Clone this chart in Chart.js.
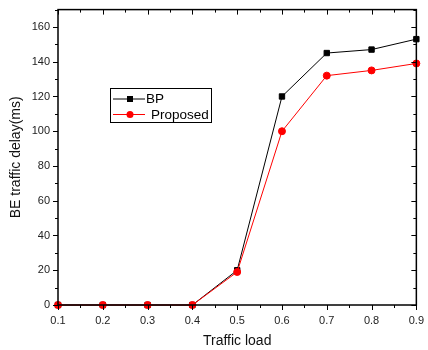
<!DOCTYPE html>
<html>
<head>
<meta charset="utf-8">
<script src="https://cdn.jsdelivr.net/npm/chart.js@4/dist/chart.umd.min.js"></script>
<style>
  html, body { margin: 0; padding: 0; background: #fff; }
  #wrap { width: 428px; height: 350px; position: relative; }
</style>
</head>
<body>
<div id="wrap"><canvas id="c" width="428" height="350"></canvas></div>
<script>
const trafficLoad = [0.1, 0.2, 0.3, 0.4, 0.5, 0.6, 0.7, 0.8, 0.9];
const bpDelay = [0, 0, 0, 0, 20, 120, 145, 147, 153];
const proposedDelay = [0, 0, 0, 0, 19, 100, 132, 135, 139];
const seriesNames = ['BP', 'Proposed'];
const xTitle = 'Traffic load';
const yTitle = 'BE traffic delay(ms)';

const FONT = '"Liberation Sans", Arial, sans-serif';

const framePlugin = {
  id: 'frame',
  afterDraw(chart) {
    const ctx = chart.ctx;
    const a = chart.chartArea;
    const xs = chart.scales.x, ys = chart.scales.y;
    ctx.save();
    ctx.strokeStyle = '#000';
    ctx.lineWidth = 1;
    ctx.beginPath();
    for (let i = 0; i <= 16; i++) {
      const v = 0.1 + i * 0.05;
      const px = Math.round(xs.getPixelForValue(v)) + 0.5;
      const major = i % 2 === 0;
      const len = major ? 5 : 3;
      ctx.moveTo(px, a.bottom); ctx.lineTo(px, a.bottom + len);
      ctx.moveTo(px, a.top); ctx.lineTo(px, a.top + len);
    }
    for (let v = 0; v <= 170; v += 10) {
      const py = Math.round(ys.getPixelForValue(v)) + 0.5;
      const major = v % 20 === 0;
      const len = major ? 5 : 3;
      ctx.moveTo(a.left, py); ctx.lineTo(a.left - len, py);
      ctx.moveTo(a.right, py); ctx.lineTo(a.right - len, py);
    }
    ctx.stroke();
    ctx.lineWidth = 1.5;
    ctx.strokeRect(a.left, a.top, a.right - a.left, a.bottom - a.top);

    const ds = chart.data.datasets;
    ctx.lineWidth = 1;
    ctx.strokeStyle = '#000';
    ctx.strokeRect(110.5, 88.5, 101, 34);
    const rows = [{y: 99, tx: 146}, {y: 114.5, tx: 151}];
    ctx.font = '13.5px ' + FONT;
    ctx.textBaseline = 'middle';
    ctx.textAlign = 'left';
    rows.forEach((r, i) => {
      const d = ds[i];
      ctx.strokeStyle = d.borderColor;
      ctx.lineWidth = 1;
      ctx.beginPath();
      ctx.moveTo(113, r.y); ctx.lineTo(145, r.y);
      ctx.stroke();
      ctx.fillStyle = d.pointBackgroundColor;
      if (d.pointStyle === 'rect') {
        ctx.fillRect(130 - 3, r.y - 3, 6, 6);
      } else {
        ctx.beginPath(); ctx.arc(130, r.y, 3.5, 0, Math.PI * 2); ctx.fill();
      }
      ctx.fillStyle = '#000';
      ctx.fillText(d.label, r.tx, r.y + 0.5);
    });
    ctx.restore();
  }
};

new Chart(document.getElementById('c'), {
  type: 'line',
  data: {
    datasets: [
      {
        label: seriesNames[0],
        data: trafficLoad.map((x, i) => ({x, y: bpDelay[i]})),
        borderColor: '#000',
        backgroundColor: '#000',
        pointBackgroundColor: '#000',
        pointBorderColor: '#000',
        pointStyle: 'rect',
        pointRadius: 3.8,
        borderWidth: 1,
        tension: 0,
        clip: false,
        order: 2
      },
      {
        label: seriesNames[1],
        data: trafficLoad.map((x, i) => ({x, y: proposedDelay[i]})),
        borderColor: '#ff0000',
        backgroundColor: '#ff0000',
        pointBackgroundColor: '#ff0000',
        pointBorderColor: '#ff0000',
        pointStyle: 'circle',
        pointRadius: 3.5,
        borderWidth: 1,
        tension: 0,
        clip: false,
        order: 1
      }
    ]
  },
  options: {
    responsive: false,
    animation: false,
    layout: { padding: { top: 8, right: 7, left: 0, bottom: 0 } },
    plugins: { legend: { display: false }, tooltip: { enabled: false } },
    scales: {
      x: {
        type: 'linear',
        min: 0.1, max: 0.9,
        afterFit(s) { s.height = 45; },
        grid: { display: false, drawTicks: true, tickLength: 5 },
        border: { display: false },
        ticks: {
          stepSize: 0.1,
          padding: 4,
          color: '#222',
          font: { family: FONT, size: 11 },
          callback: v => Number(v).toFixed(1),
          maxRotation: 0
        },
        title: {
          display: true, text: xTitle, color: '#111',
          font: { family: FONT, size: 14 },
          padding: { top: 0, bottom: 0 }
        }
      },
      y: {
        type: 'linear',
        min: 0, max: 170,
        afterFit(s) { s.width = 58; },
        afterBuildTicks(s) { s.ticks = s.ticks.filter(t => t.value % 20 === 0); },
        grid: { display: false, drawTicks: true, tickLength: 5 },
        border: { display: false },
        ticks: {
          stepSize: 20,
          padding: 3,
          color: '#222',
          font: { family: FONT, size: 11 }
        },
        title: {
          display: true, text: yTitle, color: '#111',
          font: { family: FONT, size: 14 },
          padding: { top: 8, bottom: 0 }
        }
      }
    }
  },
  plugins: [framePlugin]
});
</script>
</body>
</html>
